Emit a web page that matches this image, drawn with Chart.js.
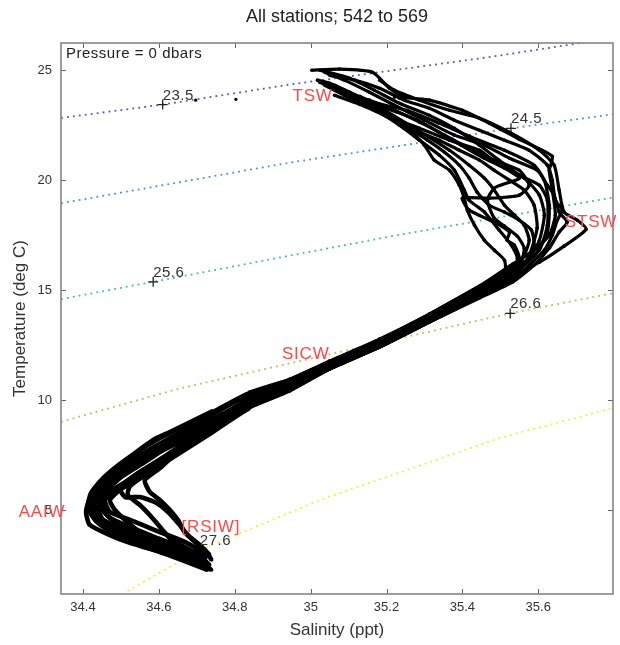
<!DOCTYPE html>
<html>
<head>
<meta charset="utf-8">
<script src="https://cdn.jsdelivr.net/npm/chart.js@4.4.1/dist/chart.umd.min.js"></script>
<style>
  html, body { margin: 0; padding: 0; background: #fff; }
  #wrap { width: 620px; height: 645px; }
</style>
</head>
<body>
<div id="wrap"><canvas id="tsChart"></canvas></div>
<script>
// axis ticks
const salTicks = [34.4, 34.6, 34.8, 35.0, 35.2, 35.4, 35.6];
const tempTicks = [5, 10, 15, 20, 25];

// sigma-t isopycnals, [salinity, temperature]
const sigma235 = [[34.342, 22.83], [34.61, 23.44], [34.945, 24.35], [35.471, 25.60], [35.708, 26.23]];
const sigma245 = [[34.342, 18.95], [34.945, 20.80], [35.313, 21.77], [35.529, 22.36], [35.797, 23.0]];
const sigma256 = [[34.342, 14.59], [34.585, 15.38], [35.234, 17.52], [35.797, 19.21]];
const sigma266 = [[34.342, 9.01], [34.655, 10.53], [35.524, 13.94], [35.797, 14.86]];
const sigma276 = [[34.505, 1.15], [34.515, 1.29], [34.708, 3.18], [35.024, 5.45], [35.497, 8.27], [35.797, 9.64]];

// isopycnal labels and their + marks
const sigmaNames = ['23.5', '24.5', '25.6', '26.6', '27.6'];
const sigmaMarkSal = [34.61, 35.528, 34.585, 35.526, 34.708];
const sigmaMarkTemp = [23.44, 22.36, 15.38, 13.94, 3.18];

// water mass labels
const massNames = ['TSW', 'STSW', 'SICW', 'AAIW', '[RSIW]'];
const massSal = [35.005, 35.739, 34.987, 34.292, 34.737];
const massTemp = [23.82, 18.09, 12.09, 4.91, 4.23];

// CTD casts, deep to surface, [salinity, temperature]
const cast1 = [
  [34.734, 2.36], [34.689, 2.64], [34.603, 3.09], [34.516, 3.55], [34.471, 3.86], [34.418, 4.32],
  [34.408, 4.91], [34.418, 5.55], [34.445, 6.27], [34.497, 7.05], [34.584, 8.18], [34.629, 8.55],
  [34.742, 9.50], [34.839, 10.36], [34.945, 10.95], [35.050, 11.77], [35.182, 12.77], [35.313, 13.91],
  [35.445, 15.18], [35.532, 16.18], [35.589, 16.82], [35.629, 17.50], [35.645, 18.41], [35.637, 19.55],
  [35.629, 20.45], [35.637, 21.09], [35.550, 21.86], [35.471, 22.59], [35.400, 23.18], [35.313, 23.64],
  [35.247, 23.77], [35.208, 24.18], [35.163, 24.91], [35.076, 25.05], [35.003, 25.00]
];
const cast2 = [
  [34.729, 2.59], [34.695, 2.86], [34.616, 3.32], [34.537, 3.77], [34.471, 4.18], [34.432, 4.64],
  [34.424, 5.23], [34.439, 5.91], [34.484, 6.68], [34.550, 7.50], [34.629, 8.27], [34.742, 9.32],
  [34.839, 10.23], [34.945, 10.86], [35.050, 11.73], [35.182, 12.73], [35.313, 13.86], [35.445, 15.09],
  [35.532, 16.05], [35.589, 16.55], [35.624, 17.64], [35.629, 18.86], [35.616, 20.00], [35.589, 20.68],
  [35.511, 21.36], [35.418, 22.00], [35.339, 22.59], [35.253, 23.18], [35.163, 23.55], [35.103, 24.00],
  [35.050, 24.41], [35.018, 24.55]
];
const cast3 = [
  [34.721, 2.73], [34.655, 3.18], [34.576, 3.64], [34.511, 4.09], [34.453, 4.55], [34.439, 5.09],
  [34.455, 5.73], [34.497, 6.45], [34.563, 7.18], [34.642, 8.09], [34.742, 9.09], [34.839, 10.09],
  [34.945, 10.77], [35.050, 11.64], [35.182, 12.64], [35.313, 13.77], [35.445, 15.00], [35.532, 15.91],
  [35.576, 16.45], [35.603, 17.27], [35.616, 18.41], [35.603, 19.32], [35.563, 20.09], [35.497, 20.68],
  [35.445, 21.36], [35.366, 21.82], [35.287, 22.36], [35.208, 22.86], [35.129, 23.45], [35.063, 23.86]
];
const cast4 = [
  [34.721, 3.05], [34.668, 3.55], [34.589, 4.09], [34.524, 4.55], [34.471, 4.91], [34.458, 5.45],
  [34.484, 5.91], [34.537, 6.45], [34.589, 7.05], [34.655, 7.86], [34.742, 8.86], [34.839, 10.00],
  [34.945, 10.68], [35.050, 11.59], [35.182, 12.59], [35.313, 13.73], [35.445, 14.91], [35.532, 15.77],
  [35.545, 16.45], [35.529, 17.05], [35.497, 17.73], [35.458, 18.55], [35.418, 19.09], [35.405, 19.55],
  [35.379, 20.45], [35.339, 21.14], [35.287, 21.82], [35.234, 22.50], [35.182, 23.09], [35.116, 23.64],
  [35.076, 24.00]
];
const cast5 = [
  [34.739, 2.73], [34.721, 3.18], [34.695, 3.55], [34.668, 4.00], [34.650, 4.55], [34.629, 5.00],
  [34.603, 5.45], [34.576, 5.82], [34.563, 6.36], [34.603, 6.91], [34.655, 7.73], [34.742, 8.73],
  [34.839, 9.86], [34.945, 10.59], [35.050, 11.55], [35.182, 12.55], [35.313, 13.68], [35.445, 14.82],
  [35.532, 15.64], [35.603, 16.27], [35.668, 17.00], [35.726, 17.77], [35.703, 18.18], [35.668, 18.55],
  [35.655, 19.55], [35.642, 20.68], [35.603, 21.36], [35.524, 22.18], [35.445, 22.82], [35.366, 23.18],
  [35.287, 23.64], [35.221, 24.09], [35.182, 24.55]
];
const cast6 = [
  [34.734, 2.50], [34.682, 3.18], [34.634, 3.64], [34.603, 4.23], [34.576, 4.77], [34.550, 5.23],
  [34.518, 5.68], [34.524, 6.09], [34.576, 6.73], [34.642, 7.50], [34.742, 8.64], [34.839, 9.77],
  [34.945, 10.50], [35.050, 11.45], [35.182, 12.45], [35.313, 13.59], [35.445, 14.73], [35.532, 15.50],
  [35.576, 16.59], [35.597, 17.82], [35.589, 18.86], [35.563, 19.55], [35.524, 20.00], [35.484, 20.45],
  [35.445, 20.91], [35.392, 21.36], [35.339, 21.82], [35.287, 22.18], [35.234, 22.64], [35.182, 23.18],
  [35.129, 23.68], [35.076, 24.09], [35.024, 24.45]
];
const cast7 = [
  [34.739, 2.27], [34.695, 2.82], [34.616, 3.41], [34.550, 4.00], [34.511, 4.55], [34.484, 5.00],
  [34.471, 5.45], [34.497, 5.91], [34.563, 6.59], [34.655, 7.59], [34.742, 8.55], [34.839, 9.64],
  [34.945, 10.41], [35.050, 11.41], [35.182, 12.41], [35.313, 13.55], [35.445, 14.64], [35.532, 15.36],
  [35.589, 16.14], [35.629, 16.91], [35.655, 17.64], [35.676, 18.09], [35.655, 18.55], [35.642, 19.32],
  [35.624, 19.77], [35.597, 20.45], [35.524, 21.00], [35.458, 21.59], [35.379, 22.05], [35.300, 22.73],
  [35.221, 23.41], [35.155, 24.00], [35.089, 24.55], [35.037, 24.91]
];
const cast8 = [
  [34.732, 2.45], [34.682, 2.77], [34.603, 3.23], [34.524, 3.73], [34.458, 4.27], [34.429, 4.91],
  [34.434, 5.55], [34.476, 6.36], [34.537, 7.18], [34.629, 8.18], [34.742, 9.14], [34.839, 10.05],
  [34.945, 10.73], [35.050, 11.64], [35.182, 12.64], [35.313, 13.77], [35.445, 14.95], [35.532, 15.82],
  [35.550, 16.45], [35.537, 17.05], [35.518, 17.27], [35.524, 17.64], [35.484, 18.09], [35.418, 18.64],
  [35.400, 19.18], [35.471, 19.18], [35.550, 19.32], [35.576, 19.77], [35.550, 20.45], [35.484, 20.91],
  [35.418, 21.45], [35.353, 22.05], [35.287, 22.64], [35.221, 23.18], [35.155, 23.64], [35.103, 23.86]
];
const cast9 = [
  [34.726, 2.41], [34.668, 2.91], [34.589, 3.41], [34.511, 3.91], [34.450, 4.41], [34.424, 4.91],
  [34.429, 5.45], [34.458, 6.09], [34.518, 6.91], [34.603, 7.82], [34.742, 9.00], [34.839, 10.14],
  [34.945, 10.82], [35.050, 11.73], [35.182, 12.73], [35.313, 13.86], [35.445, 15.05], [35.532, 15.91],
  [35.563, 16.59], [35.576, 17.27], [35.563, 17.95], [35.537, 18.41], [35.511, 18.86], [35.484, 19.55],
  [35.458, 20.09], [35.418, 20.68], [35.366, 21.36], [35.313, 21.95], [35.261, 22.50], [35.195, 23.18],
  [35.129, 23.77], [35.063, 24.32]
];
const cast10 = [
  [34.724, 2.82], [34.668, 3.27], [34.589, 3.77], [34.524, 4.23], [34.471, 4.64], [34.445, 5.14],
  [34.445, 5.73], [34.476, 6.27], [34.537, 7.00], [34.616, 7.77], [34.742, 8.82], [34.839, 9.91],
  [34.945, 10.59], [35.050, 11.50], [35.182, 12.50], [35.313, 13.64], [35.445, 14.82], [35.532, 15.68],
  [35.603, 16.82], [35.624, 17.95], [35.624, 19.09], [35.603, 19.77], [35.550, 20.23], [35.497, 20.91],
  [35.445, 21.59], [35.379, 22.36], [35.313, 22.95], [35.234, 23.50], [35.168, 24.09], [35.103, 24.64],
  [35.024, 25.00]
];
const cast11 = [
  [34.734, 2.95], [34.708, 3.41], [34.676, 3.86], [34.655, 4.32], [34.624, 4.91], [34.589, 5.36],
  [34.550, 5.59], [34.511, 5.59], [34.497, 6.00], [34.550, 6.73], [34.629, 7.50], [34.742, 8.68],
  [34.839, 9.73], [34.945, 10.45], [35.050, 11.41], [35.182, 12.41], [35.313, 13.55], [35.445, 14.68],
  [35.532, 15.45], [35.576, 16.14], [35.616, 16.82], [35.637, 17.50], [35.650, 18.18], [35.663, 18.64],
  [35.645, 19.09], [35.637, 20.00], [35.624, 20.68], [35.576, 21.36], [35.511, 21.82], [35.445, 22.27],
  [35.379, 22.73], [35.313, 23.27], [35.247, 23.64], [35.182, 24.18], [35.116, 24.55], [35.050, 24.77]
];
const cast12 = [
  [34.729, 2.27], [34.668, 2.68], [34.576, 3.27], [34.492, 3.82], [34.437, 4.45], [34.413, 5.09],
  [34.421, 5.77], [34.453, 6.45], [34.511, 7.27], [34.589, 8.14], [34.682, 8.95], [34.742, 9.41],
  [34.839, 10.32], [34.945, 10.95], [35.050, 11.77], [35.182, 12.77], [35.313, 13.91], [35.445, 15.18],
  [35.511, 15.68], [35.511, 16.36], [35.484, 16.82], [35.458, 17.27], [35.432, 17.95], [35.413, 18.64],
  [35.405, 19.18], [35.392, 19.77], [35.366, 20.45], [35.326, 20.91], [35.300, 21.59], [35.261, 22.27],
  [35.208, 22.82], [35.142, 23.41], [35.089, 23.86], [35.037, 24.32]
];
const cast13 = [
  [34.726, 2.64], [34.655, 3.09], [34.576, 3.50], [34.497, 3.95], [34.445, 4.45], [34.426, 5.00],
  [34.437, 5.59], [34.466, 6.14], [34.505, 6.68], [34.563, 7.36], [34.642, 8.18], [34.742, 9.18],
  [34.839, 9.95], [34.945, 10.64], [35.050, 11.55], [35.182, 12.55], [35.313, 13.68], [35.445, 14.86],
  [35.532, 15.73], [35.571, 16.36], [35.589, 17.05], [35.582, 17.73], [35.550, 18.18], [35.511, 18.55],
  [35.471, 18.86], [35.439, 19.45], [35.418, 20.09], [35.392, 20.68], [35.353, 21.27], [35.308, 21.82],
  [35.261, 22.36], [35.213, 22.91], [35.161, 23.45], [35.108, 23.91], [35.063, 24.18]
];
const cast14 = [
  [34.724, 2.91], [34.642, 3.41], [34.563, 3.86], [34.492, 4.36], [34.461, 4.82], [34.453, 5.32],
  [34.471, 5.82], [34.511, 6.27], [34.558, 6.82], [34.616, 7.45], [34.682, 8.18], [34.742, 8.77],
  [34.839, 9.82], [34.945, 10.50], [35.050, 11.41], [35.182, 12.41], [35.313, 13.55], [35.445, 14.73],
  [35.532, 15.59], [35.555, 16.27], [35.563, 16.91], [35.545, 17.45], [35.511, 17.91], [35.484, 18.27],
  [35.466, 19.09], [35.484, 19.64], [35.524, 19.91], [35.550, 20.09], [35.511, 20.55], [35.458, 21.00],
  [35.397, 21.59], [35.339, 22.18], [35.282, 22.73], [35.229, 23.09], [35.176, 23.41], [35.129, 23.82]
];
const strayPoints = [[34.697, 23.64], [34.803, 23.68], [35.221, 23.77], [35.234, 23.73], [35.295, 23.64]];

const casts = [cast1, cast2, cast3, cast4, cast5, cast6, cast7, cast8, cast9, cast10, cast11, cast12, cast13, cast14];
const isopycnals = [sigma235, sigma245, sigma256, sigma266, sigma276];
const isoColors = ['#5b52b8', '#4690dc', '#3dbf9e', '#d2b452', '#f4ef2c'];

const FONT = '"Liberation Sans", Arial, Helvetica, sans-serif';
const toXY = arr => arr.map(p => ({ x: p[0], y: p[1] }));

const datasets = [];
casts.forEach(c => datasets.push({
  data: toXY(c), showLine: true, borderColor: '#000', borderWidth: 3.2, tension: 0.2,
  // the intermediate water below ~9 degC is packed much tighter
  segment: { borderWidth: ctx => (ctx.p0.parsed.y < 9 ? 4.6 : 3.2) },
  pointRadius: 1.8, pointBackgroundColor: '#000', pointBorderWidth: 0
}));
datasets.push({ data: toXY(strayPoints), pointRadius: 1.6, pointBackgroundColor: '#000', pointBorderWidth: 0 });
datasets.push({
  data: sigmaMarkSal.map((s, i) => ({ x: s, y: sigmaMarkTemp[i] })),
  pointStyle: 'cross', pointRadius: 5, borderColor: '#222', borderWidth: 1.3
});
isopycnals.forEach((line, i) => datasets.push({
  data: toXY(line), showLine: true, borderColor: isoColors[i], borderWidth: 1.8,
  borderDash: [1.8, 4.2], pointRadius: 0
}));

// frame with inward ticks, and the text annotations
const annotate = {
  id: 'annotate',
  afterDraw(chart) {
    const { ctx, chartArea: a, scales: { x, y } } = chart;
    ctx.save();
    ctx.font = '15px ' + FONT;
    ctx.letterSpacing = '0.5px';
    ctx.fillStyle = '#222';
    ctx.textAlign = 'left';
    ctx.textBaseline = 'alphabetic';
    ctx.fillText('Pressure = 0 dbars', a.left + 5, a.top + 15);

    ctx.strokeStyle = '#666';
    ctx.lineWidth = 1;
    ctx.beginPath();
    salTicks.forEach(v => {
      const px = Math.round(x.getPixelForValue(v)) + 0.5;
      ctx.moveTo(px, a.bottom); ctx.lineTo(px, a.bottom - 5);
      ctx.moveTo(px, a.top); ctx.lineTo(px, a.top + 5);
    });
    tempTicks.forEach(v => {
      const py = Math.round(y.getPixelForValue(v)) + 0.5;
      ctx.moveTo(a.left, py); ctx.lineTo(a.left + 5, py);
      ctx.moveTo(a.right, py); ctx.lineTo(a.right - 5, py);
    });
    ctx.stroke();
    ctx.strokeStyle = '#858585';
    ctx.lineWidth = 1.6;
    ctx.strokeRect(a.left, a.top, a.right - a.left, a.bottom - a.top);

    ctx.fillStyle = '#333';
    ctx.font = '15px ' + FONT;
    sigmaNames.forEach((name, i) => {
      ctx.fillText(name, x.getPixelForValue(sigmaMarkSal[i]), y.getPixelForValue(sigmaMarkTemp[i]) - 5);
    });

    ctx.fillStyle = '#ff4848';
    ctx.font = '17px ' + FONT;
    ctx.letterSpacing = '0.8px';
    ctx.textAlign = 'center';
    ctx.textBaseline = 'middle';
    massNames.forEach((name, i) => {
      ctx.fillText(name, x.getPixelForValue(massSal[i]), y.getPixelForValue(massTemp[i]));
    });
    ctx.restore();
  }
};

new Chart(document.getElementById('tsChart'), {
  type: 'scatter',
  data: { datasets },
  plugins: [annotate],
  options: {
    responsive: true,
    maintainAspectRatio: false,
    animation: false,
    layout: { padding: { left: 0, right: 7, top: 0, bottom: 0 } },
    plugins: {
      legend: { display: false },
      tooltip: { enabled: false },
      title: {
        display: true,
        fullSize: false,
        text: 'All stations; 542 to 569',
        color: '#222',
        font: { family: FONT, size: 18, weight: 'normal' },
        padding: { top: 6, bottom: 15.4 }
      }
    },
    scales: {
      x: {
        type: 'linear',
        min: 34.342,
        max: 35.797,
        afterBuildTicks: s => { s.ticks = salTicks.map(v => ({ value: v })); },
        afterFit: s => { s.height = 51; },
        grid: { display: false, drawTicks: false },
        border: { display: false },
        ticks: { color: '#333', font: { family: FONT, size: 13 }, padding: 6, maxRotation: 0, callback: v => String(v) },
        title: { display: true, text: 'Salinity (ppt)', color: '#333', font: { family: FONT, size: 17 }, padding: { top: 0, bottom: 4.8 } }
      },
      y: {
        type: 'linear',
        min: 1.18,
        max: 26.24,
        afterBuildTicks: s => { s.ticks = tempTicks.map(v => ({ value: v })); },
        afterFit: s => { s.width = 61; },
        grid: { display: false, drawTicks: false },
        border: { display: false },
        ticks: { color: '#333', font: { family: FONT, size: 13 }, padding: 9, callback: v => String(v) },
        title: { display: true, text: 'Temperature (deg C)', color: '#333', font: { family: FONT, size: 17 }, padding: { top: 9.8, bottom: 0 } }
      }
    }
  }
});
</script>
</body>
</html>
